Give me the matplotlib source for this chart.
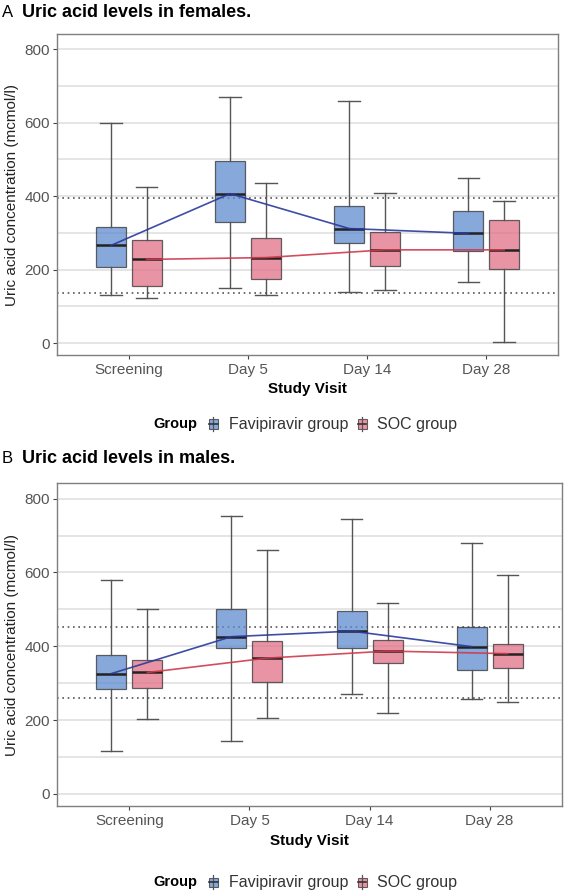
import matplotlib
matplotlib.use("Agg")
import matplotlib.pyplot as plt
from matplotlib.patches import Rectangle
from matplotlib.lines import Line2D
import numpy as np

plt.rcParams["font.family"] = ["Liberation Sans", "DejaVu Sans"]

visits = ["Screening", "Day 5", "Day 14", "Day 28"]
groups = ["Favipiravir group", "SOC group"]

# females: whisker low, q1, median, q3, whisker high
fav_f_lo = [130, 150, 139, 167]
fav_f_q1 = [207, 331, 273, 252]
fav_f_med = [266, 407, 312, 299]
fav_f_q3 = [315, 495, 373, 361]
fav_f_hi = [599, 671, 660, 449]
soc_f_lo = [123, 131, 144, 2]
soc_f_q1 = [155, 174, 211, 203]
soc_f_med = [228, 233, 254, 254]
soc_f_q3 = [282, 286, 303, 334]
soc_f_hi = [426, 437, 409, 388]
ref_f = [137, 394]

# males
fav_m_lo = [115, 144, 272, 256]
fav_m_q1 = [285, 394, 394, 336]
fav_m_med = [326, 426, 441, 399]
fav_m_q3 = [376, 500, 496, 452]
fav_m_hi = [580, 753, 746, 680]
soc_m_lo = [204, 205, 218, 248]
soc_m_q1 = [287, 302, 354, 342]
soc_m_med = [329, 368, 387, 380]
soc_m_q3 = [364, 414, 416, 405]
soc_m_hi = [501, 660, 518, 592]
ref_m = [261, 452]

FILLS = ["#5f8bcf", "#e27086"]
LINES = ["#2a3a9c", "#d03a4c"]
W, H = 568, 896


def make_stats(lo, q1, med, q3, hi):
    return [dict(whislo=a, q1=b, med=c, q3=d, whishi=e, fliers=[])
            for a, b, c, d, e in zip(lo, q1, med, q3, hi)]


def fx(px):
    return px / W


def fy(py):
    return 1 - py / H


def legend_key(fig, cx, cy, color):
    # tiny boxplot glyph, pixel coords
    fig.add_artist(Line2D([fx(cx), fx(cx)], [fy(cy + 7), fy(cy - 7)],
                          transform=fig.transFigure, color="#555555", lw=0.9))
    fig.add_artist(Rectangle((fx(cx - 4.5), fy(cy + 4.5)), 9 / W, 9 / H,
                             transform=fig.transFigure, facecolor=color, alpha=0.75,
                             edgecolor="#333333", lw=0.8))
    fig.add_artist(Line2D([fx(cx - 4.5), fx(cx + 4.5)], [fy(cy), fy(cy)],
                          transform=fig.transFigure, color="#333333", lw=1.2))


def draw_panel(ax, fav, soc, ref):
    x = np.arange(len(visits))
    for k, (stats, meds) in enumerate([fav, soc]):
        pos = x + (-0.15 if k == 0 else 0.15)
        ax.bxp(make_stats(*stats), positions=pos, widths=0.25, capwidths=0.18,
               patch_artist=True, showfliers=False,
               boxprops=dict(facecolor=FILLS[k], alpha=0.75, edgecolor="#333333", lw=0.9),
               whiskerprops=dict(color="#555555", lw=1.0),
               capprops=dict(color="#555555", lw=1.0),
               medianprops=dict(color="#222222", lw=1.8))
        ax.plot(pos, meds, color=LINES[k], lw=1.2, zorder=5, alpha=0.9)
    for r in ref:
        ax.axhline(r, color="#555555", ls=(0, (1, 2.2)), lw=1.2, zorder=1)
    ax.set_xlim(-0.6, len(visits) - 0.4)
    ax.set_ylim(-33.5, 841.5)
    ax.set_yticks([0, 200, 400, 600, 800])
    ax.set_yticks([100, 300, 500, 700], minor=True)
    ax.set_xticks(x)
    ax.set_xticklabels(visits)
    ax.grid(axis="y", which="both", color="#e3e3e3", lw=1.3, zorder=0)
    ax.set_axisbelow(True)
    ax.tick_params(axis="y", which="minor", length=0)
    ax.tick_params(which="major", length=3.2, width=0.8, color="#444444",
                   labelsize=11, labelcolor="#555555", pad=2)
    for s in ax.spines.values():
        s.set_color("#7f7f7f")
        s.set_linewidth(1.0)


fig = plt.figure(figsize=(W / 100, H / 100), dpi=100)

panels = [
    ("A", "Uric acid levels in females.", (57.3, 557.7, 34, 355.5),
     (fav_f_lo, fav_f_q1, fav_f_med, fav_f_q3, fav_f_hi), fav_f_med,
     (soc_f_lo, soc_f_q1, soc_f_med, soc_f_q3, soc_f_hi), soc_f_med, ref_f,
     12.5, 389, 424),
    ("B", "Uric acid levels in males.", (57.3, 561.7, 483.3, 806.3),
     (fav_m_lo, fav_m_q1, fav_m_med, fav_m_q3, fav_m_hi), fav_m_med,
     (soc_m_lo, soc_m_q1, soc_m_med, soc_m_q3, soc_m_hi), soc_m_med, ref_m,
     458, 841, 882),
]

for (tag, title, (l, r, t, b), fs, fm, ss, sm, ref, ty, xl, lg) in panels:
    ax = fig.add_axes([l / W, 1 - b / H, (r - l) / W, (b - t) / H])
    draw_panel(ax, (fs, fm), (ss, sm), ref)
    fig.text(fx(2), fy(ty), tag, fontsize=12, va="center", ha="left")
    fig.text(fx(22), fy(ty), title, fontsize=13, fontweight="bold",
             va="center", ha="left")
    fig.text(fx(12), fy((t + b) / 2), "Uric acid concentration (mcmol/l)",
             rotation=90, fontsize=11, color="#222222", va="center", ha="center")
    fig.text(fx((l + r) / 2), fy(xl), "Study Visit", fontsize=11,
             fontweight="bold", va="center", ha="center")
    # legend: title, keys and labels laid out left to right
    fig.text(fx(153), fy(lg), "Group", fontsize=10.5, fontweight="bold",
             va="center", ha="left")
    legend_key(fig, 213, lg, FILLS[0])
    fig.text(fx(229), fy(lg), groups[0], fontsize=11.5, color="#333333",
             va="center", ha="left")
    legend_key(fig, 362, lg, FILLS[1])
    fig.text(fx(377), fy(lg), groups[1], fontsize=11.5, color="#333333",
             va="center", ha="left")

fig.savefig("out.png", dpi=100)
